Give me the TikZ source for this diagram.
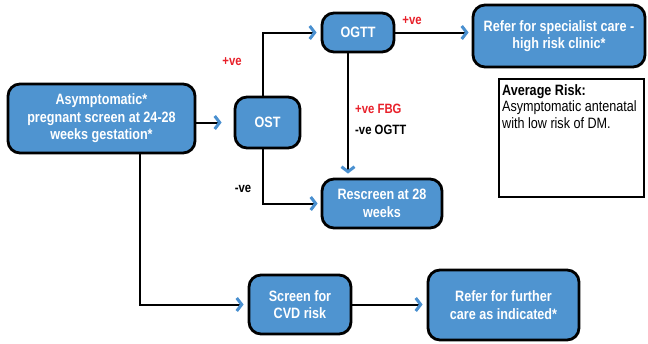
\documentclass[tikz,border=0pt]{standalone}
\usepackage{fontspec}
\setmainfont[FakeStretch=0.84]{Liberation Sans}
\usetikzlibrary{arrows.meta}
\definecolor{boxblue}{HTML}{4F94D0}
\definecolor{tipblue}{HTML}{4A90D0}
\definecolor{lblred}{HTML}{E8202A}
\tikzset{
  flowbox/.style={draw=black, line width=2.8pt, fill=boxblue, rounded corners=12pt,
    text=white, font=\bfseries\fontsize{15}{17.5}\selectfont, align=center, inner sep=2pt},
  notebox/.style={draw=black, line width=2.2pt, fill=white, text=black, inner sep=0pt},
  conn/.style={draw=black, line width=2pt, shorten >=4pt,
    -{Straight Barb[length=5pt,width=13pt,line width=3pt,color=tipblue]}},
  redlbl/.style={text=lblred, font=\bfseries\fontsize{13.5}{16}\selectfont, inner sep=0pt},
  blklbl/.style={text=black, font=\bfseries\fontsize{13.5}{16}\selectfont, inner sep=0pt}
}
\begin{document}
\begin{tikzpicture}[x=1pt,y=-1pt]
\useasboundingbox (0,0) rectangle (648,343);
\node[flowbox, minimum width=187pt, minimum height=69pt] (asym) at (101.5,118.5)
  {Asymptomatic*\\pregnant screen at 24-28\\weeks gestation*};
\node[flowbox, minimum width=65pt, minimum height=51pt] (ost) at (267.5,122.5) {OST};
\node[flowbox, minimum width=72pt, minimum height=39pt] (ogtt) at (358,32.5) {OGTT};
\node[flowbox, minimum width=172pt, minimum height=62pt] (spec) at (559,36)
  {Refer for specialist care -\\high risk clinic*};
\node[notebox, minimum width=145pt, minimum height=118pt] (avg) at (571.5,138) {};
\node[anchor=north west, inner sep=0pt, font=\fontsize{15}{16.5}\selectfont, align=left] (avgtxt) at (502,84)
  {\textbf{Average Risk:}\\Asymptomatic antenatal\\with low risk of DM.};
\node[flowbox, minimum width=120pt, minimum height=49pt] (resc) at (382,203.5)
  {Rescreen at 28\\weeks};
\node[flowbox, minimum width=102pt, minimum height=59pt] (cvd) at (300,304.5)
  {Screen for\\CVD risk};
\node[flowbox, minimum width=151pt, minimum height=70pt] (further) at (503.5,305)
  {Refer for further\\care as indicated*};

\draw[conn, shorten >=12pt] (asym.east |- ost.west) -- (ost.west);
\draw[conn] ([xshift=-5pt]ost.north) |- (ogtt.west);
\draw[conn, shorten >=3pt] (ogtt.east) -- (ogtt.east -| spec.west);
\draw[conn] ([xshift=-10pt]ogtt.south) -- ([xshift=-10pt]ogtt.south |- resc.north);
\draw[conn, shorten >=3pt] ([xshift=-5pt]ost.south) |- (resc.west);
\draw[conn] ([xshift=38pt]asym.south) |- (cvd.west);
\draw[conn] (cvd.east) -- (cvd.east -| further.west);

\node[redlbl] (l1) at (232,62) {+ve};
\node[redlbl] (l2) at (412,21) {+ve};
\node[redlbl, anchor=west] (l3) at (355,109) {+ve FBG};
\node[blklbl, anchor=west] (l4) at (355,130) {-ve OGTT};
\node[blklbl] (l5) at (243,189) {-ve};
\end{tikzpicture}
\end{document}
